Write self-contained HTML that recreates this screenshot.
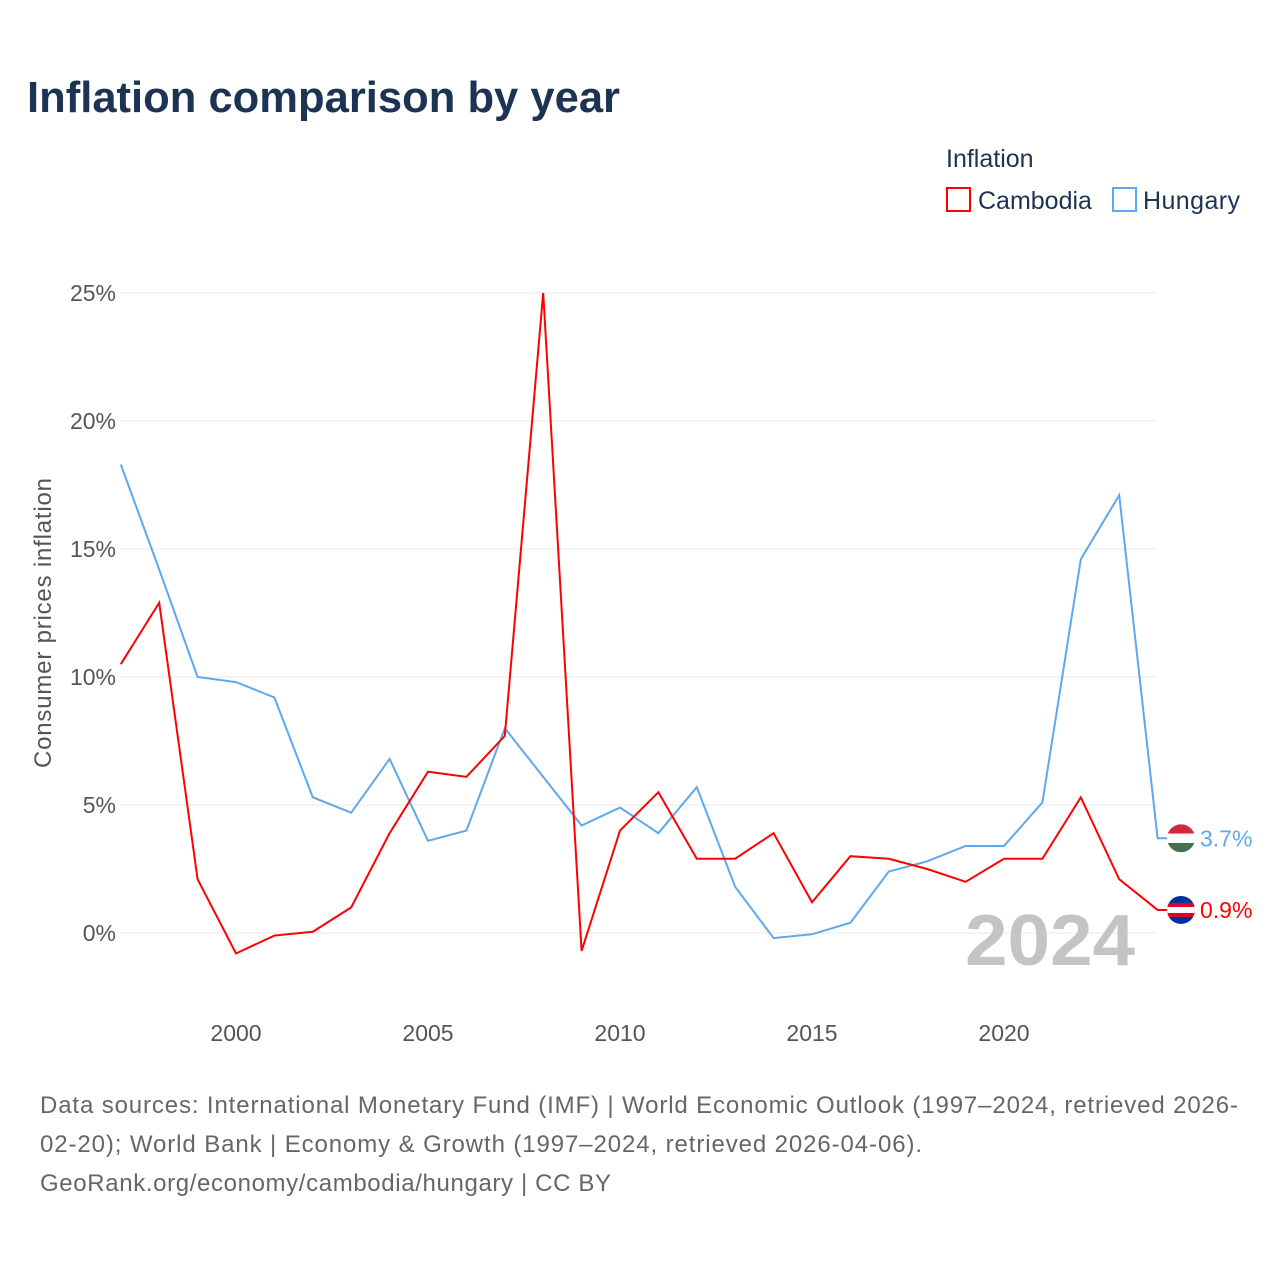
<!DOCTYPE html>
<html><head><meta charset="utf-8"><style>
body{margin:0;background:#fff;font-family:"Liberation Sans",sans-serif}
</style></head><body>
<svg width="1280" height="1280" xmlns="http://www.w3.org/2000/svg" style="font-family:'Liberation Sans',sans-serif">
<rect width="1280" height="1280" fill="#fff"/>
<text x="27" y="112" font-size="44" font-weight="bold" fill="#1c3353" textLength="593" lengthAdjust="spacingAndGlyphs">Inflation comparison by year</text>
<g>
<text x="946" y="167" font-size="25" fill="#1c3353">Inflation</text>
<g><rect x="947" y="188" width="23" height="23" fill="none" stroke="#ff0000" stroke-width="2"/><text x="978" y="209" font-size="25" fill="#1c3353">Cambodia</text></g>
<g><rect x="1113" y="188" width="23" height="23" fill="none" stroke="#5ea8ee" stroke-width="2"/><text x="1143" y="209" font-size="25" fill="#1c3353" textLength="97">Hungary</text></g>
</g>
<g id="grid"></g>
<g id="yticks"></g>
<g id="xticks"></g>
<text transform="translate(51,623) rotate(-90)" text-anchor="middle" font-size="24" fill="#555" textLength="290">Consumer prices inflation</text>
<text x="1135" y="965" text-anchor="end" font-size="72" font-weight="bold" fill="#c4c4c4" textLength="170" lengthAdjust="spacingAndGlyphs">2024</text>
<g id="series"></g>
<g font-size="24" fill="#666">
<text x="40" y="1113" textLength="1198">Data sources: International Monetary Fund (IMF) | World Economic Outlook (1997–2024, retrieved 2026-</text>
<text x="40" y="1152" textLength="882">02-20); World Bank | Economy &amp; Growth (1997–2024, retrieved 2026-04-06).</text>
<text x="40" y="1191" textLength="571">GeoRank.org/economy/cambodia/hungary | CC BY</text>
</g>
</svg>
<script>
const years=[1997,1998,1999,2000,2001,2002,2003,2004,2005,2006,2007,2008,2009,2010,2011,2012,2013,2014,2015,2016,2017,2018,2019,2020,2021,2022,2023,2024];
const cambodia=[10.5,12.9,2.1,-0.8,-0.1,0.05,1.0,3.9,6.3,6.1,7.7,25.0,-0.7,4.0,5.5,2.9,2.9,3.9,1.2,3.0,2.9,2.5,2.0,2.9,2.9,5.3,2.1,0.9];
const hungary=[18.3,14.2,10.0,9.8,9.2,5.3,4.7,6.8,3.6,4.0,8.0,6.1,4.2,4.9,3.9,5.7,1.8,-0.2,-0.05,0.4,2.4,2.8,3.4,3.4,5.1,14.6,17.1,3.7];
const yTicks=[0,5,10,15,20,25];
const xTicks=[2000,2005,2010,2015,2020];
const NS="http://www.w3.org/2000/svg";
const X=y=>120.8+(y-1997)*38.4;
const Y=v=>933-v*25.6;
function mk(t,a,p){const e=document.createElementNS(NS,t);for(const k in a)e.setAttribute(k,a[k]);p.appendChild(e);return e;}
const grid=document.getElementById('grid'),yt=document.getElementById('yticks'),xt=document.getElementById('xticks'),ser=document.getElementById('series');
yTicks.forEach(v=>{
 const l=mk('line',{x1:120,x2:1157,y1:Y(v),y2:Y(v),stroke:'#e8e8e8','stroke-width':1},grid);
 
 
 const t=mk('text',{x:116,y:Y(v)+8,'text-anchor':'end','font-size':23,fill:'#555'},yt);
 t.textContent=v+'%';
 
 
});
xTicks.forEach(y=>{
 const t=mk('text',{x:X(y),y:1041,'text-anchor':'middle','font-size':23,fill:'#555'},xt);
 t.textContent=y;
 
 
});
function line(vals,color,name,flag){
 let d=vals.map((v,i)=>(i?'L':'M')+X(years[i])+','+Y(vals[i])).join(' ');
 const last=vals[vals.length-1];
 d+=' L'+(X(years[years.length-1])+10)+','+Y(last);
 const p=mk('path',{d:d,fill:'none',stroke:color,'stroke-width':2},ser);
 
 
 const cx=1181,cy=Y(last);
 const g=mk('g',{},ser);
 
 
 const cp=mk('clipPath',{id:'c'+name},g);mk('circle',{cx:cx,cy:cy,r:14},cp);
 const gg=mk('g',{'clip-path':'url(#c'+name+')'},g);
 flag.forEach((f,i)=>mk('rect',{x:cx-14,y:cy-14+f[0],width:28,height:f[1],fill:f[2]},gg));
 const t=mk('text',{x:1200,y:cy+8,'font-size':23,fill:color},ser);
 t.textContent=last.toFixed(1)+'%';
 
 
}
line(hungary,'#5ea8ee','hungary',[[0,9.3,'#ce2939'],[9.3,9.4,'#fff'],[18.7,9.3,'#477050']]);
line(cambodia,'#ff0000','cambodia',[[0,7,'#032ea1'],[7,14,'#e00025'],[21,7,'#032ea1'],[11,6,'#fff']]);
</script>
</body></html>
